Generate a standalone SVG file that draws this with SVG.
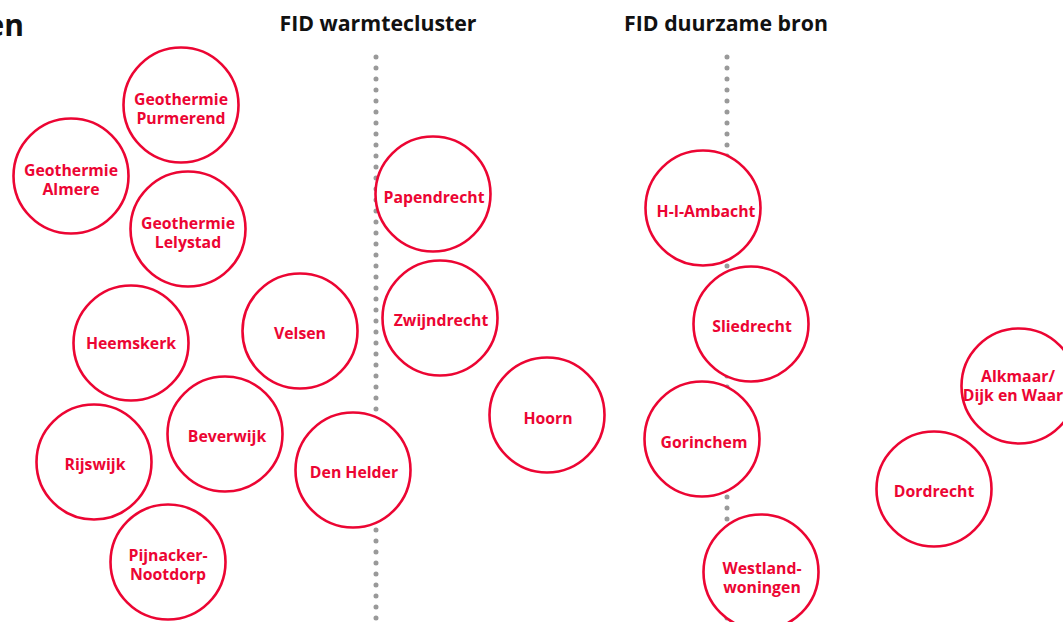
<svg xmlns="http://www.w3.org/2000/svg" width="1063" height="622" viewBox="0 0 1063 622">
<style>
.n{fill:#fff;stroke:#ec0533;stroke-width:2.6}
.t{font-family:"Open Sans","Liberation Sans",sans-serif;font-weight:bold;font-size:15.8px;fill:#ec0533;text-anchor:middle}
.h{font-family:"Open Sans","Liberation Sans",sans-serif;font-weight:bold;font-size:21.3px;fill:#111;text-anchor:middle}
.d{stroke:#999;stroke-width:5;stroke-linecap:round;stroke-dasharray:0 11;fill:none}
</style>
<rect width="1063" height="622" fill="#fff"/>
<text x="24" y="36" font-family="Open Sans, Liberation Sans, sans-serif" font-weight="bold" font-size="30" fill="#111" text-anchor="end">en</text>
<text class="h" x="378" y="31">FID warmtecluster</text>
<text class="h" x="726" y="31">FID duurzame bron</text>
<g id="connectors">
<line class="d" x1="376" y1="57" x2="376" y2="630"/>
<line class="d" x1="727" y1="57" x2="727" y2="630"/>
</g>
<g id="geothermie-purmerend"><circle class="n" cx="181" cy="105" r="57.5"/><text class="t" x="181" y="104.5">Geothermie<tspan x="181" dy="19">Purmerend</tspan></text></g>
<g id="geothermie-almere"><circle class="n" cx="71" cy="176" r="57.5"/><text class="t" x="71" y="175.5">Geothermie<tspan x="71" dy="19">Almere</tspan></text></g>
<g id="geothermie-lelystad"><circle class="n" cx="188" cy="229" r="57.5"/><text class="t" x="188" y="228.5">Geothermie<tspan x="188" dy="19">Lelystad</tspan></text></g>
<g id="heemskerk"><circle class="n" cx="131" cy="343" r="57.5"/><text class="t" x="131" y="349">Heemskerk</text></g>
<g id="velsen"><circle class="n" cx="300" cy="331" r="57.5"/><text class="t" x="300" y="339">Velsen</text></g>
<g id="rijswijk"><circle class="n" cx="94" cy="462" r="57.5"/><text class="t" x="95" y="470">Rijswijk</text></g>
<g id="beverwijk"><circle class="n" cx="225" cy="434" r="57.5"/><text class="t" x="227" y="442">Beverwijk</text></g>
<g id="den-helder"><circle class="n" cx="353" cy="470" r="57.5"/><text class="t" x="354" y="478">Den Helder</text></g>
<g id="pijnacker-nootdorp"><circle class="n" cx="168" cy="562" r="57.5"/><text class="t" x="168" y="560.5">Pijnacker-<tspan x="168" dy="19">Nootdorp</tspan></text></g>
<g id="papendrecht"><circle class="n" cx="433" cy="194" r="57.5"/><text class="t" x="434" y="203">Papendrecht</text></g>
<g id="zwijndrecht"><circle class="n" cx="440" cy="318" r="57.5"/><text class="t" x="441" y="326">Zwijndrecht</text></g>
<g id="hoorn"><circle class="n" cx="547" cy="415" r="57.5"/><text class="t" x="548" y="424">Hoorn</text></g>
<g id="h-i-ambacht"><circle class="n" cx="703" cy="208" r="57.5"/><text class="t" x="706" y="217">H-I-Ambacht</text></g>
<g id="sliedrecht"><circle class="n" cx="751" cy="324" r="57.5"/><text class="t" x="752" y="332">Sliedrecht</text></g>
<g id="gorinchem"><circle class="n" cx="702" cy="439" r="57.5"/><text class="t" x="704" y="448">Gorinchem</text></g>
<g id="westland-woningen"><circle class="n" cx="761" cy="572" r="57.5"/><text class="t" x="762" y="573.5">Westland-<tspan x="762" dy="19">woningen</tspan></text></g>
<g id="alkmaar-dijk-en-waard"><circle class="n" cx="1019" cy="386" r="57.5"/><text class="t" x="1018" y="381.5">Alkmaar/<tspan x="1018" dy="19">Dijk en Waard</tspan></text></g>
<g id="dordrecht"><circle class="n" cx="934" cy="489" r="57.5"/><text class="t" x="934" y="497">Dordrecht</text></g>
</svg>
